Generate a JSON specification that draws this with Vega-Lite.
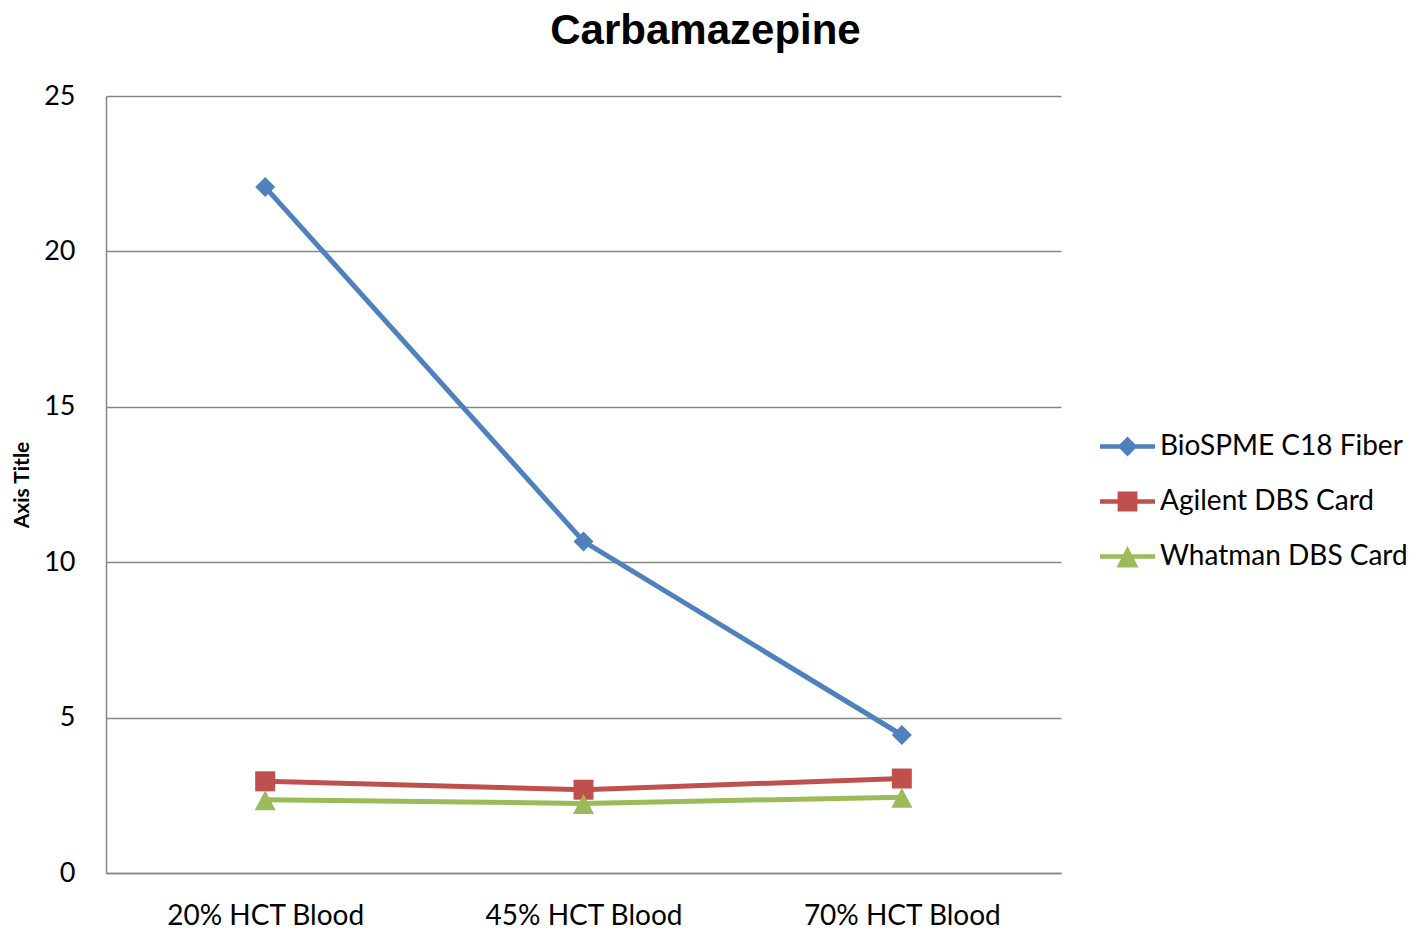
{
  "$schema": "https://vega.github.io/schema/vega-lite/v6.json",
  "width": 955,
  "height": 777,
  "autosize": {"type": "none"},
  "padding": {"left": 106, "top": 96, "right": 357, "bottom": 57},
  "background": "white",
  "title": {"text": "Carbamazepine", "font": "Liberation Sans", "fontSize": 42, "fontWeight": "bold", "color": "black", "anchor": "middle", "dx": 122, "offset": 29},
  "data": {"values": [
    {"group": "20% HCT Blood", "series": "BioSPME C18 Fiber", "value": 22.07},
    {"group": "45% HCT Blood", "series": "BioSPME C18 Fiber", "value": 10.67},
    {"group": "70% HCT Blood", "series": "BioSPME C18 Fiber", "value": 4.44},
    {"group": "20% HCT Blood", "series": "Agilent DBS Card", "value": 2.95},
    {"group": "45% HCT Blood", "series": "Agilent DBS Card", "value": 2.68},
    {"group": "70% HCT Blood", "series": "Agilent DBS Card", "value": 3.04},
    {"group": "20% HCT Blood", "series": "Whatman DBS Card", "value": 2.36},
    {"group": "45% HCT Blood", "series": "Whatman DBS Card", "value": 2.24},
    {"group": "70% HCT Blood", "series": "Whatman DBS Card", "value": 2.44}
  ]},
  "encoding": {
    "x": {"field": "group", "type": "nominal", "sort": ["20% HCT Blood", "45% HCT Blood", "70% HCT Blood"],
      "axis": {"title": null, "labelFont": "Lato", "labelFontSize": 28, "labelColor": "black", "labelAngle": 0, "labelPadding": 29, "labelLimit": 500, "ticks": false, "tickSize": 0, "domainColor": "#868686", "domainWidth": 1.5, "grid": false}},
    "y": {"field": "value", "type": "quantitative", "scale": {"domain": [0, 25], "nice": false},
      "axis": {"values": [0, 5, 10, 15, 20, 25], "title": "Axis Title", "titleFont": "Lato", "titleFontSize": 21, "titleFontWeight": "bold", "titleColor": "black", "titlePadding": 11,
        "labelFont": "Lato", "labelFontSize": 27, "labelColor": "black", "labelPadding": 31, "ticks": false, "tickSize": 0, "grid": true, "gridColor": "#868686", "gridWidth": 1.3, "domainColor": "#868686", "domainWidth": 1.5}},
    "color": {"field": "series", "type": "nominal",
      "scale": {"domain": ["BioSPME C18 Fiber", "Agilent DBS Card", "Whatman DBS Card"], "range": ["#4F81BD", "#C0504D", "#9BBB59"]},
      "legend": {"title": null, "orient": "none", "legendX": 994, "legendY": 323, "padding": 0, "rowPadding": 13,
        "labelFont": "Lato", "labelFontSize": 28, "labelColor": "black", "labelOffset": 5, "labelLimit": 400,
        "encode": {"symbols": {"update": {
          "shape": {"signal": "datum.value === 'BioSPME C18 Fiber' ? 'M-1,-0.08H1V0.08H-1ZM0,-0.36L0.36,0L0,0.36L-0.36,0Z' : datum.value === 'Agilent DBS Card' ? 'M-1,-0.08H1V0.08H-1ZM-0.36,-0.36H0.36V0.36H-0.36Z' : 'M-1,-0.08H1V0.08H-1ZM0,-0.38L0.4,0.4H-0.4Z'"},
          "fill": {"signal": "datum.value === 'BioSPME C18 Fiber' ? '#4F81BD' : datum.value === 'Agilent DBS Card' ? '#C0504D' : '#9BBB59'"},
          "stroke": {"value": "transparent"},
          "strokeWidth": {"value": 0},
          "size": {"value": 3025},
          "opacity": {"value": 1}
        }}}}}
  },
  "layer": [
    {"mark": {"type": "line", "strokeWidth": 5}},
    {"transform": [{"filter": "datum.series === 'BioSPME C18 Fiber'"}],
     "mark": {"type": "point", "filled": true, "opacity": 1, "size": 400, "shape": "M0,-1L1,0L0,1L-1,0Z"}},
    {"transform": [{"filter": "datum.series === 'Agilent DBS Card'"}],
     "mark": {"type": "point", "filled": true, "opacity": 1, "size": 400, "shape": "M-1,-1H1V1H-1Z"}},
    {"transform": [{"filter": "datum.series === 'Whatman DBS Card'"}],
     "mark": {"type": "point", "filled": true, "opacity": 1, "size": 400, "shape": "M0,-0.95L1.05,1.05H-1.05Z"}}
  ],
  "config": {"view": {"stroke": null}}
}
